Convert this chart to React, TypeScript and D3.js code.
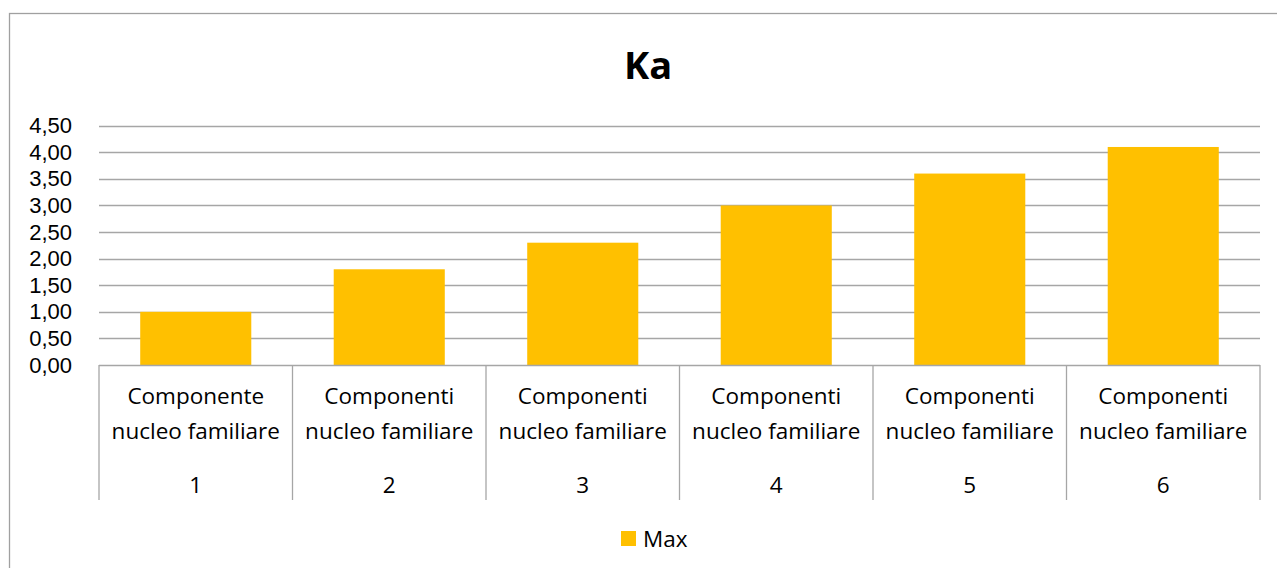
import React from "react";
import * as d3 from "d3";

// chart data
const categories = ["1", "2", "3", "4", "5", "6"];
const labelFirstLines = ["Componente", "Componenti", "Componenti", "Componenti", "Componenti", "Componenti"];
const labelSecondLine = "nucleo familiare";
const maxValues = [1.0, 1.8, 2.3, 3.0, 3.6, 4.1];
const yTicks = [0, 0.5, 1, 1.5, 2, 2.5, 3, 3.5, 4, 4.5];
const seriesName = "Max";
const title = "Ka";

const W = 1277, H = 568;
const FONT = "'Open Sans', sans-serif";
const TICK_FONT = "'Liberation Sans', Arial, sans-serif";
const FS = 22.5;

const itFormat = d3.formatLocale({ decimal: ",", thousands: ".", grouping: [3], currency: ["", " €"] }).format(".2f");

export default function App() {
	const left = 99, right = 1260, top = 125.7, bottom = 365;

	const x = d3.scaleBand<string>()
		.domain(categories)
		.range([left, right])
		.paddingInner(0.426)
		.paddingOuter(0.213);

	const y = d3.scaleLinear().domain([0, 4.5]).range([bottom, top]);

	const step = (right - left) / categories.length;
	const grid = "#a6a6a6";

	return (
		<svg width={W} height={H} style={{ position: "absolute", left: 0, top: 0, background: "#fff" }} fontFamily={FONT}>
			{/* chart frame, runs past the picture edges */}
			<rect x={9.5} y={13.5} width={W + 20} height={H + 20} fill="#fff" stroke="#a0a0a0" strokeWidth={1.3} />

			<text x={648} y={79} textAnchor="middle" fontSize={38} fontWeight="bold" fill="#000">{title}</text>

			{/* gridlines and y labels */}
			{yTicks.map(t => (
				<g key={t}>
					{t > 0 && <line x1={left} x2={right} y1={Math.round(y(t)) + 0.5} y2={Math.round(y(t)) + 0.5} stroke={grid} strokeWidth={1.3} />}
					<text x={72} y={y(t) + 7.5} textAnchor="end" fontFamily={TICK_FONT} fontSize={22} fill="#000">{itFormat(t)}</text>
				</g>
			))}

			{/* bars */}
			{maxValues.map((v, i) => (
				<rect key={i} x={x(categories[i])} y={y(v)} width={x.bandwidth()} height={y(0) - y(v)} fill="#FFC000" />
			))}

			{/* category axis */}
			<line x1={left} x2={right} y1={bottom + 0.5} y2={bottom + 0.5} stroke={grid} strokeWidth={1.3} />
			{d3.range(categories.length + 1).map(i => (
				<line key={i} x1={left + i * step} x2={left + i * step} y1={bottom} y2={500} stroke={grid} strokeWidth={1.3} />
			))}
			{categories.map((c, i) => {
				const cx = (x(c) as number) + x.bandwidth() / 2;
				return (
					<g key={c} fontSize={FS} fill="#000" textAnchor="middle">
						<text x={cx} y={404}>{labelFirstLines[i]}</text>
						<text x={cx} y={439}>{labelSecondLine}</text>
						<text x={cx} y={493}>{c}</text>
					</g>
				);
			})}

			{/* legend */}
			<rect x={621} y={531} width={15} height={15} fill="#FFC000" />
			<text x={643} y={546.5} fontSize={FS} fill="#000">{seriesName}</text>
		</svg>
	);
}
